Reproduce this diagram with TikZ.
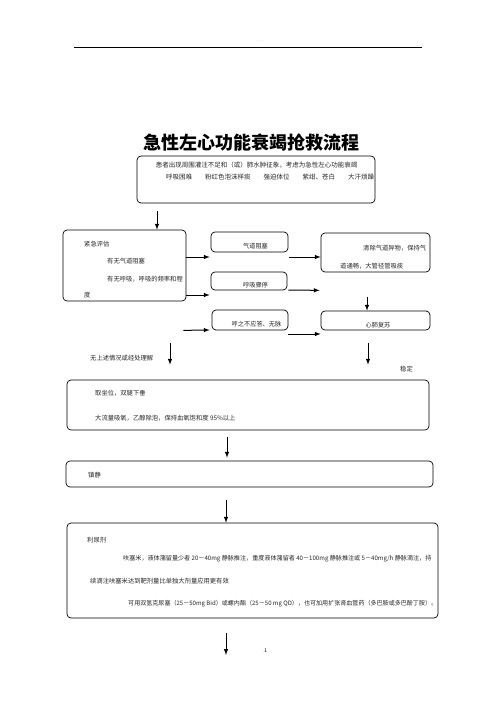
\documentclass[tikz,border=0pt]{standalone}
\usepackage{fontspec}
\usepackage{xcolor}
\usepackage{tikz}
\usetikzlibrary{positioning,calc,arrows}
\setmainfont{Noto Sans CJK SC}
\tikzset{
  txt/.style={anchor=west,inner sep=0pt,text=black!85,font=\fontsize{6.3}{7}\selectfont},
  midtxt/.style={inner sep=0pt,text=black!85,font=\fontsize{6.2}{7}\selectfont}}

\begin{document}
\begin{tikzpicture}[x=1pt,y=-1pt]
        \useasboundingbox (0,0) rectangle (496,702);
        \draw[line width=0.9pt] (74,47) -- (422,47);
        \node[inner sep=0pt,font=\fontsize{5}{5}\selectfont,text=red!45] (dots) at (261,41) {. . .};
        \node[inner sep=0pt,font=\fontsize{18}{18}\selectfont\bfseries] (title) at (251,143) {急性左心功能衰竭抢救流程};
        \begin{scope}[every node/.style={draw,rounded corners=4pt,line width=0.7pt,inner sep=0pt}]
            \node[minimum width=238pt,minimum height=47pt] (top) at (256,179.5) {};
            \node[minimum width=123pt,minimum height=71pt] (assess) at (124.5,265.5) {};
            \node[minimum width=77pt,minimum height=20pt] (airway) at (249.5,242) {};
            \node[minimum width=76pt,minimum height=18pt] (breath) at (249,281) {};
            \node[minimum width=76pt,minimum height=20pt] (pulse) at (250,320) {};
            \node[minimum width=109pt,minimum height=39pt] (clear) at (375.5,252.5) {};
            \node[minimum width=109pt,minimum height=19pt] (cpr) at (375.5,320.5) {};
            \node[minimum width=362pt,minimum height=50pt] (sit) at (248,405) {};
            \node[minimum width=367pt,minimum height=26pt] (calm) at (249.5,474) {};
            \node[minimum width=371pt,minimum height=95pt] (diur) at (252.5,570.5) {};
        \end{scope}
        \coordinate (next) at (226,655);
        % texts
        \node[midtxt,font=\fontsize{6.5}{7}\selectfont] (top-a) at (256.5,165) {患者出现周围灌注不足和（或）肺水肿征象，考虑为急性左心功能衰竭};
        \node[txt,font=\fontsize{6.5}{7}\selectfont] (top-b) at (166,177) {呼吸困难　　粉红色泡沫样痰　　强迫体位　　紫绀、苍白　　大汗烦躁};
        \node[txt] (assess-a) at (84,244) {紧急评估};
        \node[txt] (assess-b) at (107,261) {有无气道阻塞};
        \node[txt] (assess-c) at (107,279) {有无呼吸，呼吸的频率和程};
        \node[txt] (assess-d) at (84,295) {度};
        \node[midtxt] (airway-t) at (255.5,246) {气道阻塞};
        \node[midtxt] (breath-t) at (255.5,285) {呼吸骤停};
        \node[midtxt] (pulse-t) at (256.5,324) {呼之不应答、无脉};
        \node[txt] (clear-a) at (363,248) {清除气道异物，保持气};
        \node[txt] (clear-b) at (340,266) {道通畅，大管径管吸痰};
        \node[midtxt] (cpr-t) at (378,325) {心肺复苏};
        \node[txt] (none) at (90,358) {无上述情况或经处理解};
        \node[txt] (stable) at (400,369) {稳定};
        \node[txt] (sit-a) at (95,393) {取坐位，双腿下垂};
        \node[txt] (sit-b) at (95,418) {大流量吸氧，乙醇除泡，保持血氧饱和度 95\%以上};
        \node[txt] (calm-t) at (88,475) {镇静};
        \node[txt] (diur-a) at (87,540) {利尿剂};
        \node[txt,font=\fontsize{6.1}{7}\selectfont] (diur-b) at (123,559) {呋塞米，液体潴留量少者 20－40mg 静脉推注，重度液体潴留者 40－100mg 静脉推注或 5－40mg/h 静脉滴注，持};
        \node[txt] (diur-c) at (90,581) {续滴注呋塞米达到靶剂量比单独大剂量应用更有效};
        \node[txt,font=\fontsize{6.05}{7}\selectfont] (diur-d) at (128,604) {可用双氢克尿塞（25－50mg Bid）或螺内酯（25－50 mg QD），也可加用扩张肾血管药（多巴胺或多巴酚丁胺）。};
        \node[inner sep=0pt,font=\fontsize{5}{5}\selectfont] (page) at (265,651) {\textcolor{red!45}{.}1};
        % arrows
        \begin{scope}[every edge/.style={draw,line width=1pt,-latex}]
            \path ([xshift=-99pt,yshift=-8pt]top.south) edge ([xshift=32.5pt]assess.north);
            \path ([yshift=8.5pt]assess.east) edge ([xshift=-1pt,yshift=-15pt]airway.west);
            \path ([yshift=-29.5pt]assess.east) edge ([xshift=-1pt,yshift=-14pt]breath.west);
            \path ([xshift=-3pt,yshift=-29pt]assess.south east) edge ([xshift=-2pt,yshift=-10pt]pulse.west);
            \path ([xshift=1pt,yshift=-15pt]airway.east) edge ([yshift=-4.5pt]clear.west);
            \path ([xshift=1pt,yshift=-9pt]breath.east) edge ([xshift=-1pt,yshift=-18pt]clear.south west);
            \path ([yshift=-14pt]pulse.east) edge ([yshift=-13.5pt]cpr.west);
            \path ([xshift=-8.5pt,yshift=-25pt]clear.south) edge ([xshift=-8.5pt]cpr.north);
            \path ([xshift=45.5pt,yshift=-42pt]assess.south) edge ([xshift=-78pt,yshift=15pt]sit.north);
            \path ([xshift=-7.5pt,yshift=-13pt]cpr.south) edge ([xshift=120pt,yshift=15pt]sit.north);
            \path ([xshift=-21pt,yshift=-7pt]sit.south) edge ([xshift=-22.5pt,yshift=3pt]calm.north);
            \path ([xshift=-23.5pt,yshift=-13pt]calm.south) edge ([xshift=-26.5pt]diur.north);
            \path ([xshift=-26.5pt,yshift=-15pt]diur.south) edge (next);
        \end{scope}
    \end{tikzpicture}
\end{document}
